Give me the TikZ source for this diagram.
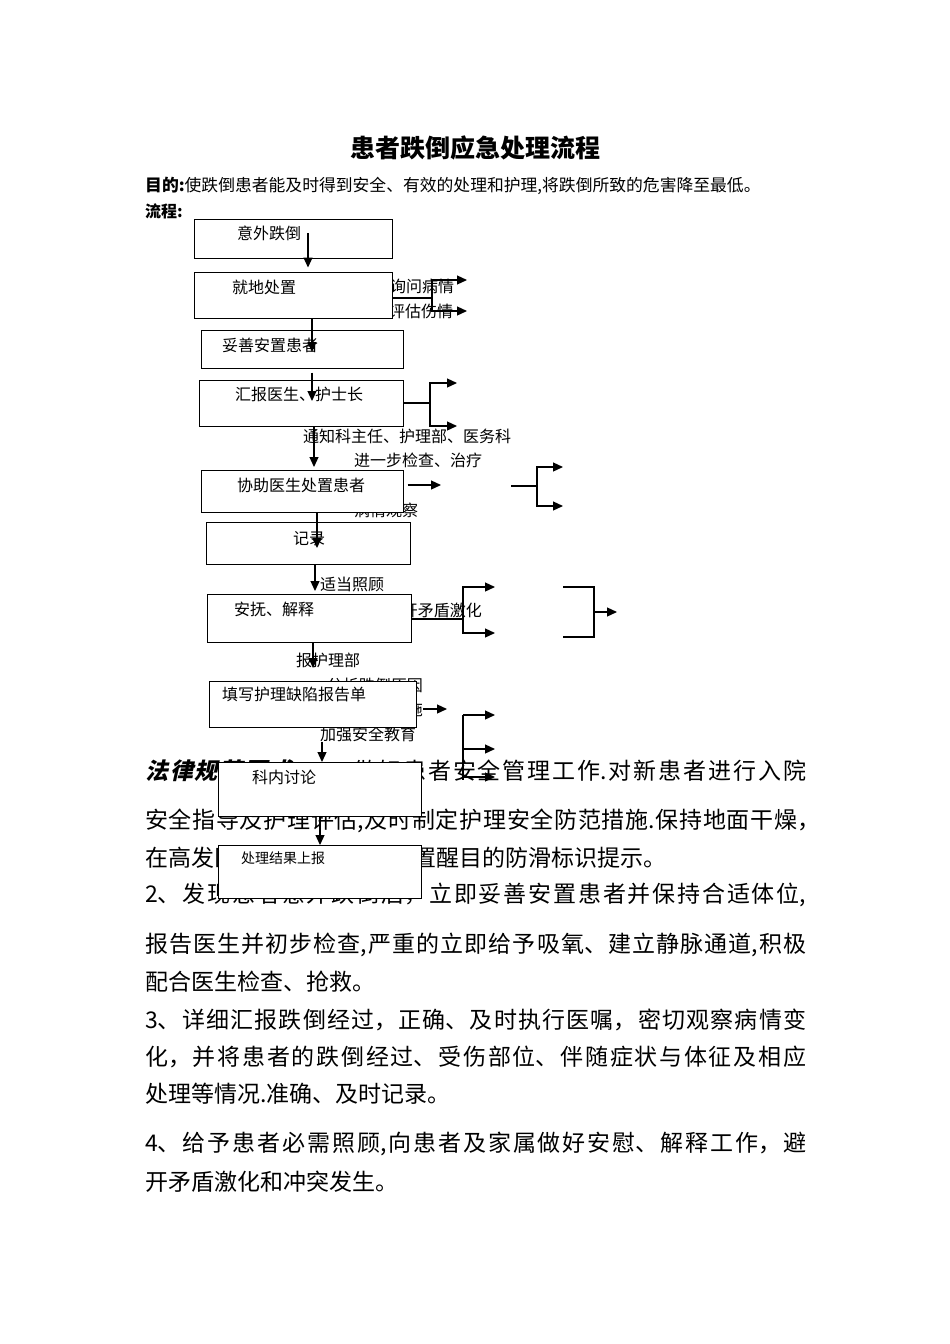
\documentclass[tikz,border=0pt]{standalone}
\usepackage{fontspec}
\setmainfont{Noto Sans CJK SC}[AutoFakeSlant=0.2]
\newfontfamily\lawfont{Noto Sans CJK SC}[BoldFeatures={FakeSlant=0.22}]
\usetikzlibrary{%
  arrows.meta,% Triangle tips
  calc%
}
% one justified line of the running text
\newcommand{\jline}[2]{\parbox{#1}{\XeTeXlinebreaklocale "zh"%
  \XeTeXlinebreakskip=0pt plus 6pt minus 0.5pt\tolerance=10000
  \parfillskip=0pt\relax\noindent #2}}

\begin{document}
\begin{tikzpicture}[
    x=1pt,y=-1pt,
    >={Triangle[length=10pt,width=9pt]},
    box/.style={draw,fill=white,line width=1pt,inner sep=0pt},
    lbl/.style={anchor=west,inner sep=0pt,font=\fontsize{16}{19}\selectfont},
    body/.style={anchor=west,inner sep=0pt,font=\fontsize{23}{27}\selectfont},
    conn/.style={line width=1.2pt}
  ]
    \path[fill=white,use as bounding box] (0,0) rectangle (950,1344);

    \node[font=\bfseries\fontsize{25}{29}\selectfont] (title) at (475,148) {患者跌倒应急处理流程};
    \node[lbl,font=\fontsize{16.8}{19}\selectfont] (aim) at (145,186)
        {\textbf{目的:}使跌倒患者能及时得到安全、有效的处理和护理,将跌倒所致的危害降至最低。};
    \node[lbl,font=\bfseries\fontsize{16}{19}\selectfont] (flow) at (145,211) {流程:};

    % side texts, partly under the boxes
    \node[lbl] (ask)    at (390,286) {询问病情};
    \node[lbl] (assess) at (389,311) {评估伤情};
    \node[lbl] (notify) at (303,436) {通知科主任、护理部、医务科};
    \node[lbl] (exam)   at (354,460) {进一步检查、治疗};
    \node[lbl] (obs)    at (354,510) {病情观察};
    \node[lbl] (care)   at (320,584) {适当照顾};
    \node[lbl,anchor=east] (avoid) at (482,610) {避开矛盾激化};
    \node[lbl] (nursing) at (296,660) {报护理部};
    \node[lbl,anchor=east] (cause) at (423,685) {分析跌倒原因};
    \node[lbl,anchor=east] (plan)  at (423,709) {制定防范措施};
    \node[lbl] (edu)    at (320,734) {加强安全教育};

    % running text
    \node[body] (l1)  at (145,771)  {\jline{661pt}{{\lawfont\bfseries 法律规范要求：}1、做好患者安全管理工作.对新患者进行入院}};
    \node[body] (l2)  at (145,821)  {\jline{675pt}{安全指导及护理评估,及时制定护理安全防范措施.保持地面干燥，}};
    \node[body] (l3a) at (145,858)  {在高发区域};
    \node[body,anchor=east] (l3b) at (667,858) {置醒目的防滑标识提示。};
    \node[body] (l4)  at (145,895)  {\jline{661pt}{2、发现患者意外跌倒后，立即妥善安置患者并保持合适体位,}};
    \node[body] (l5)  at (145,945)  {\jline{661pt}{报告医生并初步检查,严重的立即给予吸氧、建立静脉通道,积极}};
    \node[body] (l6)  at (145,982)  {配合医生检查、抢救。};
    \node[body] (l7)  at (145,1020) {\jline{661pt}{3、详细汇报跌倒经过，正确、及时执行医嘱，密切观察病情变}};
    \node[body] (l8)  at (145,1057) {\jline{661pt}{化，并将患者的跌倒经过、受伤部位、伴随症状与体征及相应}};
    \node[body] (l9)  at (145,1094) {处理等情况.准确、及时记录。};
    \node[body] (l10) at (145,1144) {\jline{661pt}{4、给予患者必需照顾,向患者及家属做好安慰、解释工作，避}};
    \node[body] (l11) at (145,1182) {开矛盾激化和冲突发生。};

    % boxes
    \node[box,minimum width=198pt,minimum height=39pt] (box1)  at (293,238.5) {};
    \node[box,minimum width=198pt,minimum height=46pt] (box2)  at (293,295)   {};
    \node[box,minimum width=202pt,minimum height=38pt] (box3)  at (302,349)   {};
    \node[box,minimum width=204pt,minimum height=46pt] (box4)  at (301,403)   {};
    \node[box,minimum width=202pt,minimum height=42pt] (box5)  at (302,491)   {};
    \node[box,minimum width=204pt,minimum height=42pt] (box6)  at (308,543)   {};
    \node[box,minimum width=204pt,minimum height=48pt] (box7)  at (309,618)   {};
    \node[box,minimum width=207pt,minimum height=46pt] (box8)  at (312.5,704) {};
    \node[box,minimum width=203pt,minimum height=54pt] (box9)  at (319.5,789) {};
    \node[box,minimum width=203pt,minimum height=53pt] (box10) at (319.5,871.5) {};

    \node[lbl] (t1)  at (237,233) {意外跌倒};
    \node[lbl] (t2)  at (232,287) {就地处置};
    \node[lbl] (t3)  at (222,345) {妥善安置患者};
    \node[lbl] (t4)  at (235,394) {汇报医生、护士长};
    \node[lbl] (t5)  at (237,485) {协助医生处置患者};
    \node[lbl] (t6)  at (293,539) {记录};
    \node[lbl] (t7)  at (234,609) {安抚、解释};
    \node[lbl] (t8)  at (222,694) {填写护理缺陷报告单};
    \node[lbl] (t9)  at (252,777) {科内讨论};
    \node[lbl,font=\fontsize{14}{17}\selectfont] (t10) at (241,858) {处理结果上报};

    % connectors
    \coordinate (p1)  at (308,233);
    \coordinate (p2)  at (312,352);
    \coordinate (p3)  at (312,401);
    \coordinate (p4)  at (314,467);
    \coordinate (p5)  at (441,485);
    \coordinate (p6)  at (317,548);
    \coordinate (p7)  at (315,591);
    \coordinate (p8)  at (313,668);
    \coordinate (p9)  at (322,762);
    \coordinate (p10) at (320,845);
    \coordinate (b1)  at (432,298);  \coordinate (b1u) at (467,280);  \coordinate (b1d) at (467,311);
    \coordinate (b2)  at (430,403);  \coordinate (b2u) at (457,383);  \coordinate (b2d) at (457,426);
    \coordinate (b3a) at (511,486);  \coordinate (b3)  at (537,486);
    \coordinate (b3u) at (563,467);  \coordinate (b3d) at (563,506);
    \coordinate (b4)  at (463,619);  \coordinate (b4u) at (495,587);  \coordinate (b4d) at (495,633);
    \coordinate (b5u) at (563,587);  \coordinate (b5d) at (563,637);
    \coordinate (b5)  at (594,612);  \coordinate (b5e) at (617,612);
    \coordinate (b6)  at (447,709);
    \coordinate (b7)  at (463,715);  \coordinate (b7e) at (463,780);
    \coordinate (b7u) at (495,715);  \coordinate (b7m) at (495,749);  \coordinate (b7d) at (495,777);

    \begin{scope}[conn]
     \draw[->,shorten >=4pt] (p1) -- (p1 |- box2.north);
     \draw[->] (p2 |- box2.south) -- (p2);
     \draw[->,shorten <=4pt] (p3 |- box3.south) -- (p3);
     \draw[->] (p4 |- box4.south) -- (p4);
     \draw[->,shorten <=4pt] (box5.east |- p5) -- (p5);
     \draw[->] (p6 |- box5.south) -- (p6);
     \draw[->] (p7 |- box6.south) -- (p7);
     \draw[->] (p8 |- box7.south) -- (p8);
     \draw[->] (p9 |- edu.south) -- (p9);
     \draw[->] (p10 |- box9.south) -- (p10);

     \draw (box2.east |- b1) -- (b1);
     \draw[->] (b1) |- (b1u);
     \draw[->] (b1) |- (b1d);
     \draw (box4.east |- b2) -- (b2);
     \draw[->] (b2) |- (b2u);
     \draw[->] (b2) |- (b2d);
     \draw (b3a) -- (b3);
     \draw[->] (b3) |- (b3u);
     \draw[->] (b3) |- (b3d);
     \draw (box7.east |- b4) -- (b4);
     \draw[->] (b4) |- (b4u);
     \draw[->] (b4) |- (b4d);
     \draw (b5u) -| (b5);
     \draw (b5d) -| (b5);
     \draw[->] (b5) -- (b5e);
     \draw[->] (plan.east) -- (b6);
     \draw (b7) -- (b7e);
     \draw[->] (b7) -- (b7u);
     \draw[->] (b7m -| b7) -- (b7m);
     \draw[->] (b7d -| b7) -- (b7d);
    \end{scope}
\end{tikzpicture}
\end{document}
